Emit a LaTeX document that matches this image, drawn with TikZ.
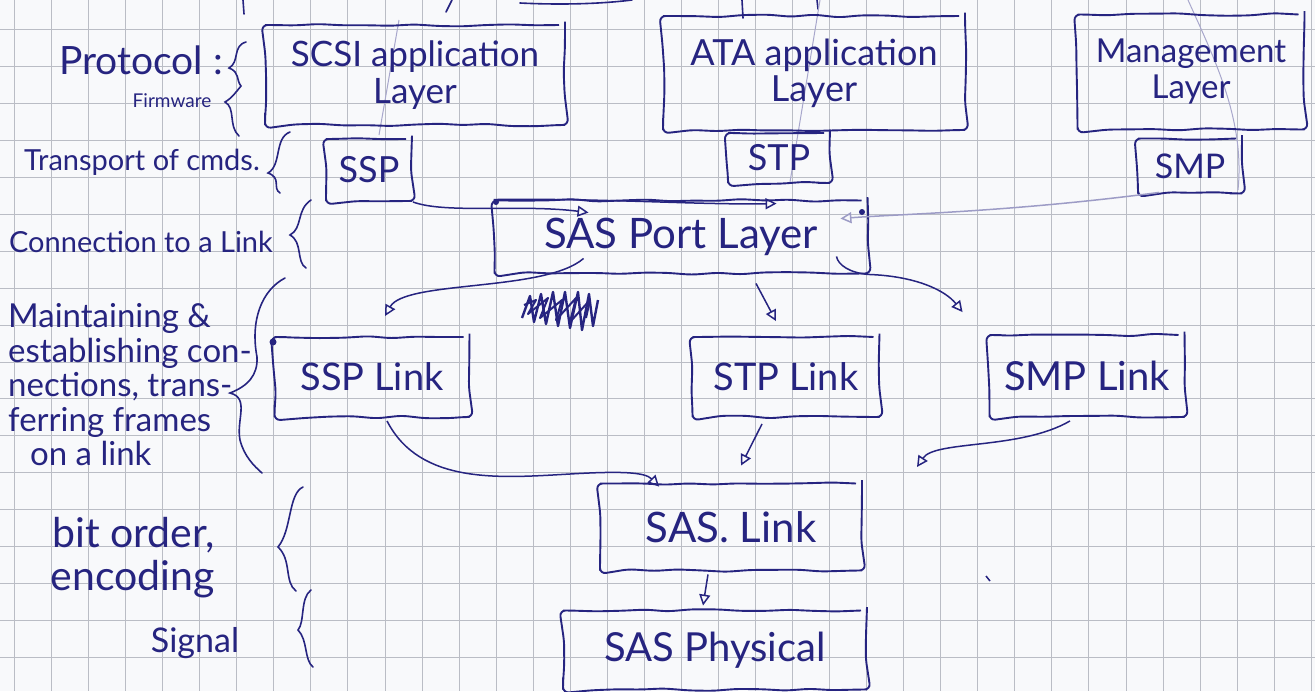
\documentclass[tikz,border=0pt]{standalone}
\usepackage{fontspec}
\setmainfont{Lato}
\usetikzlibrary{arrows.meta,decorations.pathmorphing,calc}
\definecolor{ink}{RGB}{38,36,128}
\definecolor{paper}{RGB}{248,249,251}
\definecolor{gridc}{RGB}{186,189,197}
\tikzset{
  box/.style={draw=ink, line width=1.9pt, rounded corners=6pt, inner sep=0pt, align=center, text=ink,
    decorate, decoration={random steps, segment length=24pt, amplitude=1.4pt}},
  side/.style={text=ink, inner sep=0pt, align=left},
  arr/.style={draw=ink, line width=1.5pt, -{Triangle[open,length=11pt,width=11pt]}},
  brc/.style={draw=ink, line width=1.6pt, line cap=round},
  faint/.style={draw=ink!40, line width=1pt},
  gridline/.style={draw=gridc, line width=1pt}
}
\begin{document}
\begin{tikzpicture}[x=1pt,y=-1pt]
\pgfmathsetseed{7}
\fill[paper] (0,0) rectangle (1315,691);
\useasboundingbox (0,0) rectangle (1315,691);
% graph paper
\foreach \i in {0,...,35} \draw[gridline] ({14.5+37.05*\i},0) -- ({14.5+37.05*\i},691);
\foreach \j in {0,...,18} \draw[gridline] (0,{29.9+36.9*\j}) -- (1315,{29.9+36.9*\j});

% strokes cut by the top edge
\draw[brc] (243,0) -- (244,14);
\draw[brc] (452,0) -- (446,12);
\draw[brc] (520,3) .. controls (560,5) and (600,4) .. (632,0);
\draw[brc] (742,0) -- (743,18);
\draw[brc] (817,0) -- (818,9);
\draw[faint] (399,20) -- (379,135);
\draw[faint] (820,0) -- (790,182);
\draw[faint] (1188,0) .. controls (1215,60) and (1245,120) .. (1238,190);

% boxes
\node[box, minimum width=300pt, minimum height=100pt, font=\fontsize{35}{37}\selectfont] (scsi) at (415,75) {SCSI application\\Layer};
\node[box, minimum width=302pt, minimum height=114pt, font=\fontsize{36}{36}\selectfont] (ata) at (814,73) {ATA application\\Layer};
\node[box, minimum width=227pt, minimum height=115pt, font=\fontsize{33}{36}\selectfont] (mgmt) at (1191,72) {Management\\Layer};
\node[box, minimum width=86pt, minimum height=62pt, font=\fontsize{36}{36}\selectfont] (ssp) at (369,170) {SSP};
\node[box, minimum width=102pt, minimum height=50pt, font=\fontsize{36}{36}\selectfont] (stp) at (779,158) {STP};
\node[box, minimum width=104pt, minimum height=55pt, font=\fontsize{34}{36}\selectfont] (smp) at (1190,166) {SMP};
\node[box, minimum width=373pt, minimum height=73pt, font=\fontsize{42}{42}\selectfont] (port) at (681,237) {SAS Port Layer};
\node[box, minimum width=195pt, minimum height=80pt, font=\fontsize{38}{38}\selectfont] (ssplink) at (372,377) {SSP Link};
\node[box, minimum width=187pt, minimum height=80pt, font=\fontsize{38}{38}\selectfont] (stplink) at (786,377) {STP Link};
\node[box, minimum width=195pt, minimum height=82pt, font=\fontsize{40}{40}\selectfont] (smplink) at (1087,376) {SMP Link};
\node[box, minimum width=262pt, minimum height=87pt, font=\fontsize{42}{42}\selectfont] (saslink) at (731,527) {SAS. Link};
\node[box, minimum width=304pt, minimum height=79pt, font=\fontsize{40}{40}\selectfont] (sasphys) at (715,650) {SAS Physical};

% side labels
\node[side, font=\fontsize{39}{40}\selectfont] (prot) at (141,60) {Protocol :};
\node[side, font=\fontsize{19}{20}\selectfont] (firm) at (172,101) {Firmware};
\node[side, font=\fontsize{29}{30}\selectfont] (trans) at (142,162) {Transport of cmds.};
\node[side, font=\fontsize{29}{30}\selectfont] (conn) at (141,242) {Connection to a Link};
\node[side, font=\fontsize{33}{34.5}\selectfont, anchor=west] (maint) at (8,385) {Maintaining \&\\establishing con-\\nections, trans-\\ferring frames\\\hspace*{22pt}on a link};
\node[side, font=\fontsize{41}{43}\selectfont, align=right, anchor=east] (bit) at (215,558) {bit order,\\encoding};
\node[side, font=\fontsize{34}{36}\selectfont] (sig) at (195,643) {Signal};

% braces
\draw[brc] (246,42) .. controls (232,46) and (240,62) .. (229,68) .. controls (240,72) and (236,80) .. (241,86) .. controls (236,92) and (232,98) .. (225,102) .. controls (236,108) and (228,126) .. (239,136);
\draw[brc] (290,132) .. controls (274,138) and (282,165) .. (268,173) .. controls (282,178) and (272,188) .. (280,193);
\draw[brc] (311,200) .. controls (296,210) and (303,228) .. (290,235) .. controls (303,242) and (296,262) .. (306,268);
\draw[brc] (285,278) .. controls (262,290) and (250,320) .. (257,357) .. controls (258,375) and (248,386) .. (230,393) .. controls (250,398) and (236,420) .. (240,440) .. controls (244,456) and (254,466) .. (262,473);
\draw[brc] (303,487) .. controls (288,494) and (292,530) .. (278,547) .. controls (292,560) and (284,582) .. (296,591);
\draw[brc] (311,590) .. controls (300,598) and (305,622) .. (298,630) .. controls (308,640) and (304,660) .. (313,667);

% scribble
\draw[ink, line width=2.4pt, line join=round] (522,318) -- (530,296) -- (534,322) -- (541,294) -- (546,324) -- (553,292) -- (558,326) -- (565,292) -- (570,328) -- (578,292) -- (582,330) -- (589,294) -- (593,326) -- (598,300);
\draw[ink, line width=2pt, line join=round] (524,305) -- (536,300) -- (528,314) -- (548,298) -- (540,318) -- (562,300) -- (556,320) -- (576,298) -- (570,322) -- (590,300) -- (586,318);

% corner blobs and stray mark
\fill[ink] (273,342) circle (3.5pt);
\fill[ink] (496,202) circle (3pt);
\fill[ink] (862,212) circle (3pt);
\draw[ink, line width=1.5pt] (986,576) -- (990,581);

% connectors
\coordinate (loose) at (917,467);
\draw[arr] (ssp.south east) .. controls (445,214) and (520,204) .. ($(port.north west)+(95,13)$);
\draw[arr] (port.north west) .. controls (600,198) and (700,205) .. ($(port.north west)+(283,4)$);
\draw[arr, draw=ink!45] ($(smp.south west)+(22,-2)$) .. controls (1010,212) and (900,214) .. ($(port.north east)+(-28,19)$);
\draw[arr] ($(port.south west)+(90,-16)$) .. controls (545,292) and (405,280) .. ($(ssplink.north)+(13,-20)$);
\draw[arr] ($(port.south)+(75,9)$) -- ($(stplink.north)+(-10,-15)$);
\draw[arr] ($(port.south east)+(-32,-18)$) .. controls (838,265) and (850,273) .. (port.south east) .. controls (915,276) and (945,290) .. ($(smplink.north west)+(-26,-22)$);
\draw[arr] ($(ssplink.south)+(15,3)$) .. controls (420,485) and (500,478) .. (570,474) .. controls (620,471) and (645,472) .. ($(saslink.north west)+(60,4)$);
\draw[arr] ($(stplink.south)+(-24,6)$) -- ($(saslink.north)+(10,-17)$);
\draw[arr] ($(smplink.south)+(-17,3)$) .. controls (1020,450) and (935,440) .. (loose);
\draw[arr] ($(saslink.south)+(-23,3)$) -- ($(sasphys.north)+(-12,-4)$);
\end{tikzpicture}
\end{document}
